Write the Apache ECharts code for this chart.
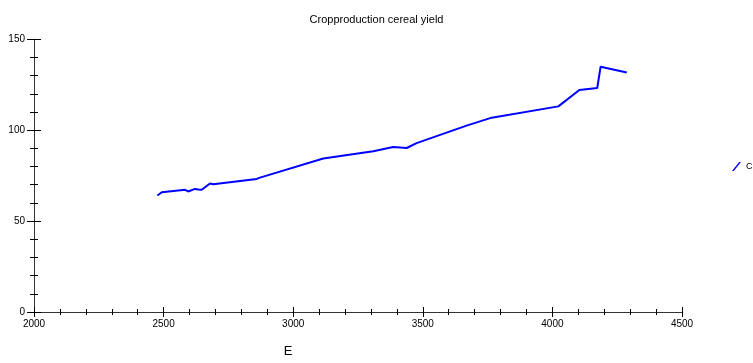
<!DOCTYPE html>
<html>
<head>
<meta charset="utf-8">
<script src="https://cdn.jsdelivr.net/npm/echarts@6/dist/echarts.min.js"></script>
<style>
html,body{margin:0;padding:0;background:#fff;}
#c{width:753px;height:363px;}
</style>
</head>
<body>
<div id="c"></div>
<script>
var titleText = "Cropproduction cereal yield";
var xName = "E";
var seriesName = "C";
var xValues = [2476, 2493, 2583, 2595, 2621, 2634, 2647, 2679, 2692, 2859, 2872, 3116, 3309, 3386, 3438, 3476, 3669, 3766, 4023, 4104, 4173, 4186, 4287];
var yValues = [64.1, 65.9, 67.2, 66.3, 67.7, 67.4, 67.2, 70.7, 70.3, 73.2, 73.9, 84.4, 88.4, 90.8, 90.2, 92.9, 102.5, 106.9, 113.1, 122.1, 123.2, 134.9, 131.7];
var xMin = 2000, xMax = 4500, xStep = 500;
var yMin = 0, yMax = 150, yStep = 50;

var points = xValues.map(function (x, i) { return [x, yValues[i]]; });
var font = "Liberation Sans, Arial, sans-serif";
var axisCol = "#333";

function xAx(inside, showLabel) {
  return {
    type: "value", position: "bottom", min: xMin, max: xMax, interval: xStep,
    name: showLabel ? xName : "", nameLocation: "middle", nameGap: 33,
    nameTextStyle: { fontFamily: font, fontSize: 13, color: "#000", padding: [0, 140, 0, 0] },
    axisLine: { show: true, onZero: false, lineStyle: { color: axisCol, width: 1 } },
    axisTick: { show: true, inside: inside, length: 5, lineStyle: { color: "#000" } },
    minorTick: { show: true, splitNumber: 5, length: 3, lineStyle: { color: "#000" } },
    axisLabel: { show: showLabel, fontFamily: font, fontSize: 10, color: "#000", margin: 7,
      formatter: function (v) { return String(v); } },
    splitLine: { show: false }, minorSplitLine: { show: false }
  };
}
function yAx(inside, showLabel) {
  return {
    type: "value", position: "left", min: yMin, max: yMax, interval: yStep,
    axisLine: { show: true, onZero: false, lineStyle: { color: axisCol, width: 1 } },
    axisTick: { show: true, inside: inside, length: 7, lineStyle: { color: "#000" } },
    minorTick: { show: true, splitNumber: 5, length: 4, lineStyle: { color: "#000" } },
    axisLabel: { show: showLabel, fontFamily: font, fontSize: 10, color: "#000", margin: 9,
      formatter: function (v) { return String(v); } },
    splitLine: { show: false }, minorSplitLine: { show: false }
  };
}

var chart = echarts.init(document.getElementById("c"), null, { renderer: "canvas" });
chart.setOption({
  animation: false,
  backgroundColor: "#fff",
  title: {
    text: titleText, left: "center", top: 9,
    textStyle: { fontFamily: font, fontSize: 11, fontWeight: "normal", color: "#000" }
  },
  legend: {
    left: 727, top: 157, itemWidth: 9, itemHeight: 9, itemGap: 4,
    data: [{ name: seriesName, icon: "path://M0,10 L2,10 L10,0 L8,0 Z" }],
    textStyle: { fontFamily: font, fontSize: 9, color: "#000", padding: [0, 0, 0, 0] }
  },
  grid: { left: 34, right: 71, top: 39.3, bottom: 47.7, containLabel: false },
  xAxis: [xAx(false, true), xAx(true, false)],
  yAxis: [yAx(false, true), yAx(true, false)],
  series: [{
    name: seriesName, type: "line", xAxisIndex: 0, yAxisIndex: 0,
    data: points, showSymbol: false, symbol: "none",
    lineStyle: { color: "#0000ff", width: 2 },
    itemStyle: { color: "#0000ff" }
  }]
});
</script>
</body>
</html>
